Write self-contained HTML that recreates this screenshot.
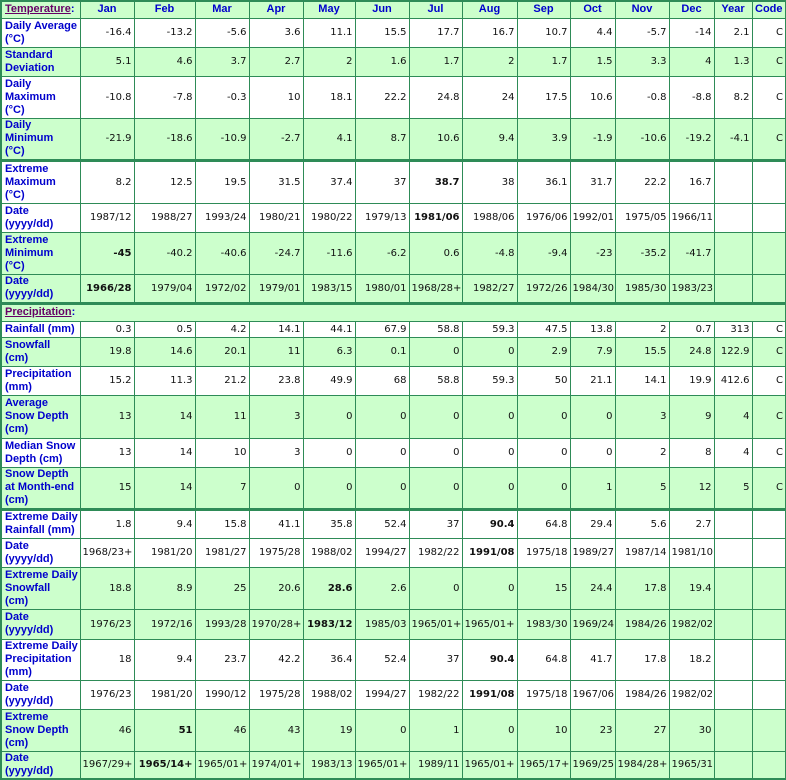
<!DOCTYPE html>
<html><head><meta charset="utf-8"><style>
html,body{margin:0;padding:0;background:#fff;}
table{border-collapse:collapse;table-layout:fixed;width:785px;font-family:"DejaVu Sans","Liberation Sans",sans-serif;font-size:10px;border:2px solid #2e8b57;}
td{border:1px solid #2e8b57;padding:0 2px 0 2px;text-align:right;color:#111;line-height:13px;overflow:hidden;white-space:nowrap;}
td.l{text-align:left;color:#0000cc;font-weight:bold;white-space:normal;padding-left:3px;padding-right:0;font-family:"Liberation Sans",sans-serif;font-size:11px;}
tr.h td{text-align:center;color:#0000cc;font-weight:bold;font-family:"Liberation Sans",sans-serif;font-size:11px;}
tr.h td.l{text-align:left;}
.g td{background:#ccffcc;}
.w td{background:#fff;}
.t td{border-top:3px solid #2e8b57;}
.s a{color:#660066;text-decoration:underline;}
b{font-weight:bold;}
</style></head><body>
<table>
<colgroup><col style="width:79px"><col style="width:54px"><col style="width:61px"><col style="width:54px"><col style="width:54px"><col style="width:52px"><col style="width:54px"><col style="width:53px"><col style="width:55px"><col style="width:53px"><col style="width:45px"><col style="width:54px"><col style="width:45px"><col style="width:38px"><col style="width:34px"></colgroup>
<tr class="h g" style="height:17px"><td class="l s"><a>Temperature</a>:</td><td>Jan</td><td>Feb</td><td>Mar</td><td>Apr</td><td>May</td><td>Jun</td><td>Jul</td><td>Aug</td><td>Sep</td><td>Oct</td><td>Nov</td><td>Dec</td><td>Year</td><td>Code</td></tr>
<tr class="w" style="height:29px"><td class="l">Daily Average (°C)</td><td>-16.4</td><td>-13.2</td><td>-5.6</td><td>3.6</td><td>11.1</td><td>15.5</td><td>17.7</td><td>16.7</td><td>10.7</td><td>4.4</td><td>-5.7</td><td>-14</td><td>2.1</td><td>C</td></tr>
<tr class="g" style="height:29px"><td class="l">Standard Deviation</td><td>5.1</td><td>4.6</td><td>3.7</td><td>2.7</td><td>2</td><td>1.6</td><td>1.7</td><td>2</td><td>1.7</td><td>1.5</td><td>3.3</td><td>4</td><td>1.3</td><td>C</td></tr>
<tr class="w" style="height:42px"><td class="l">Daily<br>Maximum<br>(°C)</td><td>-10.8</td><td>-7.8</td><td>-0.3</td><td>10</td><td>18.1</td><td>22.2</td><td>24.8</td><td>24</td><td>17.5</td><td>10.6</td><td>-0.8</td><td>-8.8</td><td>8.2</td><td>C</td></tr>
<tr class="g" style="height:42px"><td class="l">Daily<br>Minimum<br>(°C)</td><td>-21.9</td><td>-18.6</td><td>-10.9</td><td>-2.7</td><td>4.1</td><td>8.7</td><td>10.6</td><td>9.4</td><td>3.9</td><td>-1.9</td><td>-10.6</td><td>-19.2</td><td>-4.1</td><td>C</td></tr>
<tr class="w t" style="height:43px"><td class="l">Extreme<br>Maximum<br>(°C)</td><td>8.2</td><td>12.5</td><td>19.5</td><td>31.5</td><td>37.4</td><td>37</td><td><b>38.7</b></td><td>38</td><td>36.1</td><td>31.7</td><td>22.2</td><td>16.7</td><td></td><td></td></tr>
<tr class="w" style="height:29px"><td class="l">Date<br>(yyyy/dd)</td><td>1987/12</td><td>1988/27</td><td>1993/24</td><td>1980/21</td><td>1980/22</td><td>1979/13</td><td><b>1981/06</b></td><td>1988/06</td><td>1976/06</td><td>1992/01</td><td>1975/05</td><td>1966/11</td><td></td><td></td></tr>
<tr class="g" style="height:42px"><td class="l">Extreme<br>Minimum<br>(°C)</td><td><b>-45</b></td><td>-40.2</td><td>-40.6</td><td>-24.7</td><td>-11.6</td><td>-6.2</td><td>0.6</td><td>-4.8</td><td>-9.4</td><td>-23</td><td>-35.2</td><td>-41.7</td><td></td><td></td></tr>
<tr class="g" style="height:29px"><td class="l">Date<br>(yyyy/dd)</td><td><b>1966/28</b></td><td>1979/04</td><td>1972/02</td><td>1979/01</td><td>1983/15</td><td>1980/01</td><td>1968/28+</td><td>1982/27</td><td>1972/26</td><td>1984/30</td><td>1985/30</td><td>1983/23</td><td></td><td></td></tr>
<tr class="g t" style="height:18px"><td class="l s" colspan="15"><a>Precipitation</a>:</td></tr>
<tr class="w" style="height:16px"><td class="l" style="white-space:nowrap">Rainfall (mm)</td><td>0.3</td><td>0.5</td><td>4.2</td><td>14.1</td><td>44.1</td><td>67.9</td><td>58.8</td><td>59.3</td><td>47.5</td><td>13.8</td><td>2</td><td>0.7</td><td>313</td><td>C</td></tr>
<tr class="g" style="height:29px"><td class="l">Snowfall<br>(cm)</td><td>19.8</td><td>14.6</td><td>20.1</td><td>11</td><td>6.3</td><td>0.1</td><td>0</td><td>0</td><td>2.9</td><td>7.9</td><td>15.5</td><td>24.8</td><td>122.9</td><td>C</td></tr>
<tr class="w" style="height:29px"><td class="l">Precipitation<br>(mm)</td><td>15.2</td><td>11.3</td><td>21.2</td><td>23.8</td><td>49.9</td><td>68</td><td>58.8</td><td>59.3</td><td>50</td><td>21.1</td><td>14.1</td><td>19.9</td><td>412.6</td><td>C</td></tr>
<tr class="g" style="height:43px"><td class="l">Average<br>Snow Depth<br>(cm)</td><td>13</td><td>14</td><td>11</td><td>3</td><td>0</td><td>0</td><td>0</td><td>0</td><td>0</td><td>0</td><td>3</td><td>9</td><td>4</td><td>C</td></tr>
<tr class="w" style="height:29px"><td class="l">Median Snow<br>Depth (cm)</td><td>13</td><td>14</td><td>10</td><td>3</td><td>0</td><td>0</td><td>0</td><td>0</td><td>0</td><td>0</td><td>2</td><td>8</td><td>4</td><td>C</td></tr>
<tr class="g" style="height:42px"><td class="l">Snow Depth<br>at Month-end<br>(cm)</td><td>15</td><td>14</td><td>7</td><td>0</td><td>0</td><td>0</td><td>0</td><td>0</td><td>0</td><td>1</td><td>5</td><td>12</td><td>5</td><td>C</td></tr>
<tr class="w t" style="height:29px"><td class="l">Extreme Daily<br>Rainfall (mm)</td><td>1.8</td><td>9.4</td><td>15.8</td><td>41.1</td><td>35.8</td><td>52.4</td><td>37</td><td><b>90.4</b></td><td>64.8</td><td>29.4</td><td>5.6</td><td>2.7</td><td></td><td></td></tr>
<tr class="w" style="height:29px"><td class="l">Date<br>(yyyy/dd)</td><td>1968/23+</td><td>1981/20</td><td>1981/27</td><td>1975/28</td><td>1988/02</td><td>1994/27</td><td>1982/22</td><td><b>1991/08</b></td><td>1975/18</td><td>1989/27</td><td>1987/14</td><td>1981/10</td><td></td><td></td></tr>
<tr class="g" style="height:42px"><td class="l">Extreme Daily<br>Snowfall<br>(cm)</td><td>18.8</td><td>8.9</td><td>25</td><td>20.6</td><td><b>28.6</b></td><td>2.6</td><td>0</td><td>0</td><td>15</td><td>24.4</td><td>17.8</td><td>19.4</td><td></td><td></td></tr>
<tr class="g" style="height:30px"><td class="l">Date<br>(yyyy/dd)</td><td>1976/23</td><td>1972/16</td><td>1993/28</td><td>1970/28+</td><td><b>1983/12</b></td><td>1985/03</td><td>1965/01+</td><td>1965/01+</td><td>1983/30</td><td>1969/24</td><td>1984/26</td><td>1982/02</td><td></td><td></td></tr>
<tr class="w" style="height:41px"><td class="l">Extreme Daily<br>Precipitation<br>(mm)</td><td>18</td><td>9.4</td><td>23.7</td><td>42.2</td><td>36.4</td><td>52.4</td><td>37</td><td><b>90.4</b></td><td>64.8</td><td>41.7</td><td>17.8</td><td>18.2</td><td></td><td></td></tr>
<tr class="w" style="height:29px"><td class="l">Date<br>(yyyy/dd)</td><td>1976/23</td><td>1981/20</td><td>1990/12</td><td>1975/28</td><td>1988/02</td><td>1994/27</td><td>1982/22</td><td><b>1991/08</b></td><td>1975/18</td><td>1967/06</td><td>1984/26</td><td>1982/02</td><td></td><td></td></tr>
<tr class="g" style="height:42px"><td class="l">Extreme<br>Snow Depth<br>(cm)</td><td>46</td><td><b>51</b></td><td>46</td><td>43</td><td>19</td><td>0</td><td>1</td><td>0</td><td>10</td><td>23</td><td>27</td><td>30</td><td></td><td></td></tr>
<tr class="g" style="height:28px"><td class="l">Date<br>(yyyy/dd)</td><td>1967/29+</td><td><b>1965/14+</b></td><td>1965/01+</td><td>1974/01+</td><td>1983/13</td><td>1965/01+</td><td>1989/11</td><td>1965/01+</td><td>1965/17+</td><td>1969/25</td><td>1984/28+</td><td>1965/31</td><td></td><td></td></tr>
</table>
</body></html>
